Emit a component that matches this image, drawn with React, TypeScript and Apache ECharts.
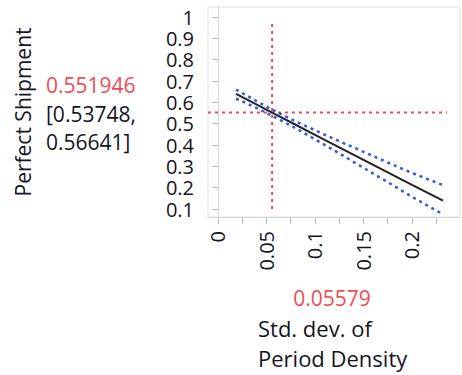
import React, { useEffect, useRef } from "react";
import * as echarts from "echarts";

const xValues = [0.0186, 0.04, 0.05579, 0.08, 0.1, 0.125, 0.15, 0.175, 0.2, 0.232];
const predicted = [0.6393, 0.5889, 0.5519, 0.495, 0.448, 0.3893, 0.3305, 0.2718, 0.213, 0.139];
const upperCI = [0.660, 0.605, 0.566, 0.511, 0.469, 0.418, 0.368, 0.318, 0.269, 0.212];
const lowerCI = [0.618, 0.573, 0.537, 0.479, 0.427, 0.361, 0.293, 0.226, 0.157, 0.075];
const yTickLabels = [0.1, 0.2, 0.3, 0.4, 0.5, 0.6, 0.7, 0.8, 0.9, 1];
const xTickLabels = [0, 0.05, 0.1, 0.15, 0.2];
const xMinorTicks = [0, 0.025, 0.05, 0.075, 0.1, 0.125, 0.15, 0.175, 0.2, 0.225];
const currentX = 0.05579;
const currentY = 0.551946;
const ciText = ["[0.53748,", "0.56641]"];
const yTitle = "Perfect Shipment";
const xTitle = ["Std. dev. of", "Period Density"];

const FONT = "'Open Sans', 'Noto Sans', sans-serif";
const RED = "#ee4c55";
const BLUE = "#2f5be0";
const TEXT = "#15151f";

export default function App() {
  const ref = useRef<HTMLDivElement>(null);
  useEffect(() => {
    if (!ref.current) return;
    const chart = echarts.init(ref.current, undefined, { renderer: "svg" });
    const pair = (ys: number[]) => xValues.map((x, i) => [x, ys[i]]);
    const txt = (x: number, y: number, text: string, size: number, fill: string, align = "left") => ({
      type: "text",
      x,
      y,
      style: { text, fontSize: size, fontFamily: FONT, fill, align, verticalAlign: "middle" },
    });
    chart.setOption({
      animation: false,
      grid: {
        left: 208,
        top: 7,
        right: 2,
        bottom: 158,
        show: true,
        borderColor: "#e2e2e8",
        borderWidth: 1,
      },
      xAxis: {
        type: "value",
        min: -0.0103,
        max: 0.2495,
        splitLine: { show: false },
        axisLine: { show: true, lineStyle: { color: "#d8d8e0" } },
        axisTick: {
          show: true,
          customValues: xMinorTicks,
          length: 7,
          lineStyle: { color: "#b8bcd0" },
        },
        axisLabel: {
          customValues: xTickLabels,
          rotate: 90,
          margin: 14,
          fontSize: 20,
          fontFamily: FONT,
          color: TEXT,
          formatter: (v: number) => String(v),
        },
      },
      yAxis: {
        type: "value",
        min: 0.0625,
        max: 1.047,
        splitLine: { show: false },
        axisLine: { show: true, lineStyle: { color: "#d8d8e0" } },
        axisTick: {
          show: true,
          customValues: yTickLabels,
          length: 6,
          lineStyle: { color: "#b8bcd0" },
        },
        axisLabel: {
          customValues: yTickLabels,
          margin: 14,
          fontSize: 20,
          lineHeight: 20,
          fontFamily: FONT,
          color: TEXT,
          formatter: (v: number) => String(v),
        },
      },
      series: [
        {
          type: "line",
          data: [[currentX, 0.1], [currentX, 0.977]],
          symbol: "none",
          lineStyle: { color: RED, width: 2, type: [3, 4] },
        },
        {
          type: "line",
          data: [[-0.0103, currentY], [0.236, currentY]],
          symbol: "none",
          lineStyle: { color: RED, width: 2, type: [3, 4] },
        },
        {
          type: "line",
          data: pair(upperCI),
          symbol: "none",
          lineStyle: { color: BLUE, width: 2.5, type: [3, 4] },
        },
        {
          type: "line",
          data: pair(lowerCI),
          symbol: "none",
          lineStyle: { color: BLUE, width: 2.5, type: [3, 4] },
        },
        {
          type: "line",
          data: pair(predicted),
          symbol: "none",
          lineStyle: { color: "#222", width: 2 },
        },
      ],
      graphic: [
        {
          type: "text",
          x: 23,
          y: 112,
          rotation: Math.PI / 2,
          style: {
            text: yTitle,
            fontSize: 21,
            fontFamily: FONT,
            fill: TEXT,
            align: "center",
            verticalAlign: "middle",
          },
        },
        txt(46, 85, currentY.toString(), 21, RED),
        txt(46, 114, ciText[0], 21, TEXT),
        txt(46, 142, ciText[1], 21, TEXT),
        txt(332, 298, currentX.toString(), 21, RED, "center"),
        txt(258, 328, xTitle[0], 22, TEXT),
        txt(258, 358, xTitle[1], 22, TEXT),
      ],
    });
    return () => chart.dispose();
  }, []);
  return (
    <div
      ref={ref}
      style={{ position: "absolute", left: 0, top: 0, width: 462, height: 375 }}
    />
  );
}
